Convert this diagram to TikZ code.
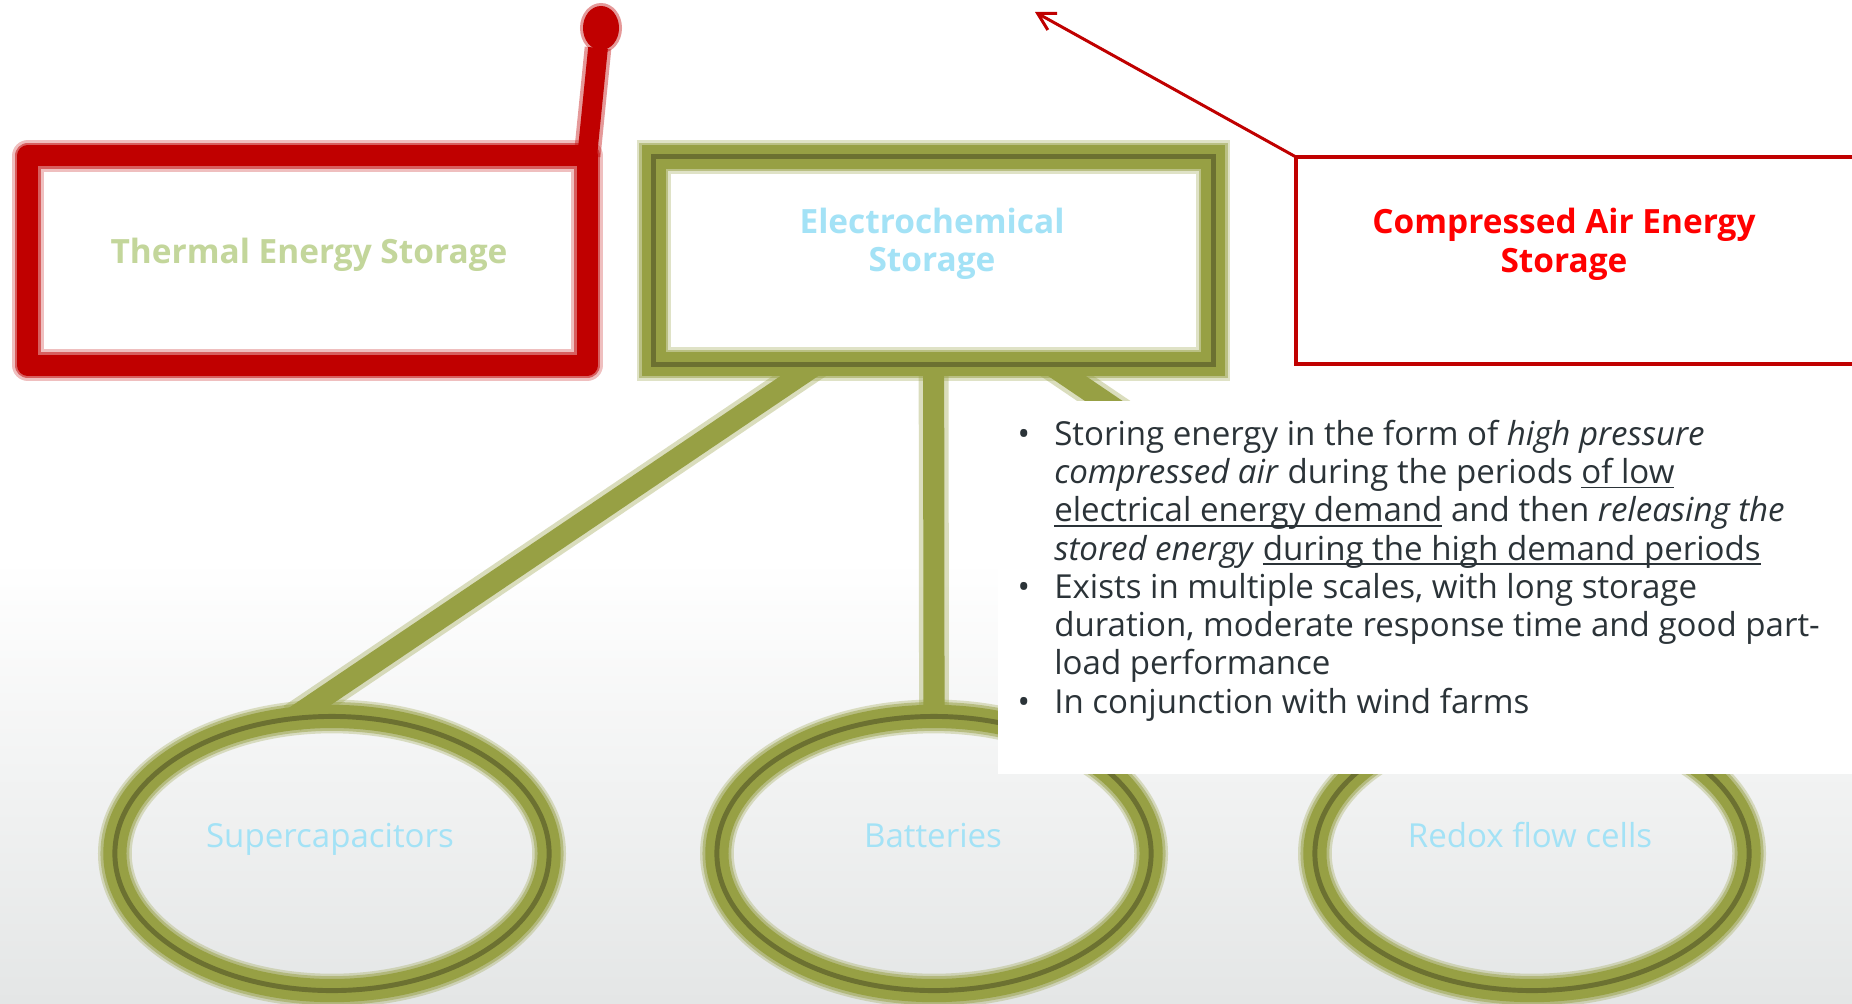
\documentclass[tikz,border=0pt]{standalone}
\usepackage{fontspec}
\setmainfont{Open Sans}
\usetikzlibrary{arrows.meta,shapes.geometric,calc}
\definecolor{tred}{HTML}{C00000}
\definecolor{olv}{HTML}{97A044}
\definecolor{olvd}{HTML}{6C7131}
\definecolor{tgreen}{HTML}{C3D69B}
\definecolor{tcyan}{HTML}{A3E2F6}
\definecolor{bred}{HTML}{FF0000}
\definecolor{txtgray}{HTML}{2B3338}
\definecolor{bggray}{HTML}{E4E6E6}
\newcommand\myul[1]{\setbox0\hbox{#1}\rlap{\rule[-1.4pt]{\wd0}{0.5pt}}\box0\relax}
\newcommand\bulmark{\makebox[10.4pt][l]{\textbullet}}
\newcommand\indmark{\hspace*{10.4pt}}
\pgfdeclarelayer{back}
\pgfdeclarelayer{conn}
\pgfsetlayers{back,conn,main}
\tikzset{
  redbox/.style={draw=tred, line width=6pt, line join=round, outer sep=0pt, inner sep=0pt,
    preaction={fill=white},
    preaction={draw=tred, line width=9pt, draw opacity=0.25},
    preaction={draw=tred, line width=7.5pt, draw opacity=0.5}},
  olvbox/.style={draw=olvd, line width=1.4pt, outer sep=0pt, inner sep=0pt,
    preaction={fill=white},
    preaction={draw=olv, line width=9.6pt, draw opacity=0.3},
    preaction={draw=olv, line width=8.2pt, draw opacity=0.5},
    preaction={draw=olv, line width=6.8pt}},
  olvring/.style={ellipse, draw=olvd, line width=1.4pt, outer sep=0pt, inner sep=0pt,
    minimum width=4.34cm, minimum height=2.74cm,
    preaction={draw=olv, line width=9.6pt, draw opacity=0.3},
    preaction={draw=olv, line width=8.2pt, draw opacity=0.5},
    preaction={draw=olv, line width=6.6pt}},
  olvconn/.style={draw=olv, line width=6pt,
    preaction={draw=olv, line width=8.5pt, draw opacity=0.35}},
  redstem/.style={draw=tred, line width=5.6pt,
    preaction={draw=tred, line width=7.6pt, draw opacity=0.4}},
  arr/.style={draw=tred, line width=0.85pt, -{Straight Barb[length=4.8pt,width=5.4pt]}},
  boxlbl/.style={font=\fontsize{9.5}{10.9}\selectfont\bfseries, inner sep=0pt, anchor=base},
  ringlbl/.style={font=\fontsize{9.4}{10.9}\selectfont, text=tcyan, inner sep=0pt, anchor=base},
}
\begin{document}
\begin{tikzpicture}[x=0.01cm,y=-0.01cm]
\useasboundingbox (0,0) rectangle (1852,1003);
\clip (0,0) rectangle (1852,1003);
\begin{pgfonlayer}{back}
  \fill[white] (0,0) rectangle (1852,561);
  \shade[top color=white, bottom color=bggray] (0,560) rectangle (1852,1003);
\end{pgfonlayer}

% boxes
\node[redbox, minimum width=5.59cm, minimum height=2.09cm] (th) at (307.5,260.5) {};
\node[olvbox, minimum width=5.59cm, minimum height=2.07cm] (ec) at (933.5,260.5) {};

% ellipses
\node[olvring] (sc) at (332,853.5) {};
\node[olvring] (bt) at (934,853.5) {};
\node[olvring] (rf) at (1532,853.5) {};

% connectors
\coordinate (ecsrc) at ($(ec.center)+(0,25)$);
\begin{pgfonlayer}{conn}
  \draw[olvconn, line cap=round] (ecsrc) -- ($(sc.north)+(-40,2)$);
  \draw[olvconn] (ec.center) -- (bt.north);
  \draw[olvconn, line cap=round] (ecsrc) -- ($(rf.north)+(40,2)$);
\end{pgfonlayer}

% red pointer from thermal box
\coordinate (blob) at (601,28);
\draw[redstem] (th.north east) -- (598,48);
\fill[tred, opacity=0.4] (blob) ellipse [x radius=0.21cm, y radius=0.25cm];
\fill[tred] (blob) ellipse [x radius=0.18cm, y radius=0.22cm];

% compressed air box
\node[draw=tred, line width=1.3pt, fill=white, anchor=north west, outer sep=0pt, inner sep=0pt,
      minimum width=6.2cm, minimum height=2.07cm] (cae) at (1296,157) {};
\coordinate (tip) at (1035,12);
\draw[arr] (cae.north west) -- (tip);

% text box
\node[fill=white, anchor=north west, inner sep=0pt, outer sep=0pt,
      minimum width=8.7cm, minimum height=3.73cm] (tb) at (998,401) {};

% labels
\node[boxlbl, text=tgreen] (thl) at (309,263) {Thermal Energy Storage};
\node[boxlbl, text=tcyan] (ecl) at (932,233) {\begin{tabular}[t]{@{}c@{}}Electrochemical\\Storage\end{tabular}};
\node[boxlbl, text=bred, font=\fontsize{9.5}{11.1}\selectfont\bfseries] (cael) at (1564,233) {\begin{tabular}[t]{@{}c@{}}Compressed Air Energy\\Storage\end{tabular}};
\node[ringlbl] (scl) at (330,847) {Supercapacitors};
\node[ringlbl] (btl) at (933,847) {Batteries};
\node[ringlbl] (rfl) at (1530,847) {Redox flow cells};

% bullet text
\node[anchor=base west, inner sep=0pt, text=txtgray, font=\fontsize{9.4}{10.9}\selectfont] (bul) at (1017,445) {%
\begin{tabular}[t]{@{}l@{}}
\bulmark Storing energy in the form of \textit{high pressure}\\
\indmark\textit{compressed air} during the periods \myul{of low}\\
\indmark\myul{electrical energy demand} and then \textit{releasing the}\\
\indmark\textit{stored energy} \myul{during the high demand periods}\\
\bulmark Exists in multiple scales, with long storage\\
\indmark duration, moderate response time and good part-\\
\indmark load performance\\
\bulmark In conjunction with wind farms
\end{tabular}};
\end{tikzpicture}
\end{document}
